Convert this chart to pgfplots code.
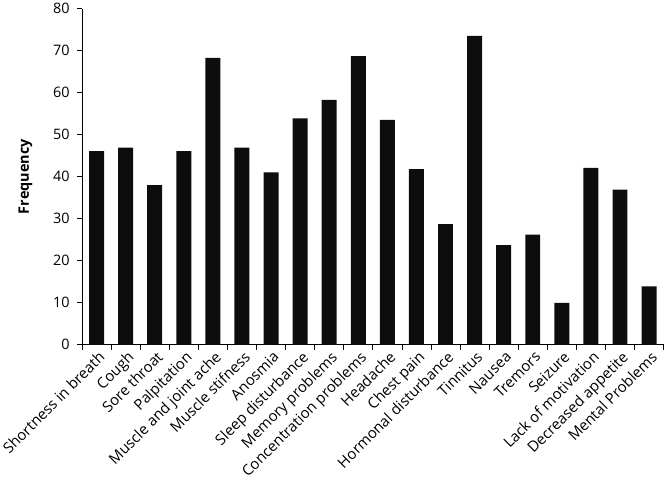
\documentclass[border=0pt]{standalone}
\usepackage{pgfplots}
\pgfplotsset{compat=1.18}
\usepackage{fontspec}
\setmainfont{Open Sans}
\begin{document}
\begin{tikzpicture}
\begin{axis}[
  scale only axis,
  width=583bp, height=337bp,
  ymin=0, ymax=80,
  xmin=-0.5, xmax=19.5,
  axis lines*=left,
  ytick={0,10,...,80},
  xtick={0,...,19},
  xticklabels={Shortness in breath,Cough,Sore throat,Palpitation,Muscle and joint ache,Muscle stifness,Anosmia,Sleep disturbance,Memory problems,Concentration problems,Headache,Chest pain,Hormonal disturbance,Tinnitus,Nausea,Tremors,Seizure,Lack of motivation,Decreased appetite,Mental Problems},
  minor xtick={-0.5,0.5,...,19.5},
  major x tick style={draw=none},
  minor tick length=5bp,
  major tick length=5bp,
  tick align=outside,
  x tick label style={rotate=45, anchor=north east, inner sep=1pt, xshift=1.5bp, font=\fontsize{15}{17}\selectfont},
  y tick label style={font=\fontsize{14.5}{16}\selectfont, xshift=-4bp},
  /pgf/number format/assume math mode=true,
  ylabel={\textbf{Frequency}},
  ylabel style={font=\fontsize{14.5}{16}\selectfont},
  ylabel shift=14bp,
  axis line style={black, line width=0.8pt},
  tick style={black, line width=0.8pt},
  ybar, bar width=15bp,
]
\addplot[fill=black!95, draw=none] coordinates {
(0,46.1) (1,46.9) (2,38) (3,46.1) (4,68.3) (5,46.9) (6,41) (7,53.9) (8,58.3) (9,68.7)
(10,53.5) (11,41.8) (12,28.7) (13,73.5) (14,23.7) (15,26.2) (16,10) (17,42.1) (18,36.9) (19,13.9)
};
\end{axis}
\end{tikzpicture}
\end{document}
